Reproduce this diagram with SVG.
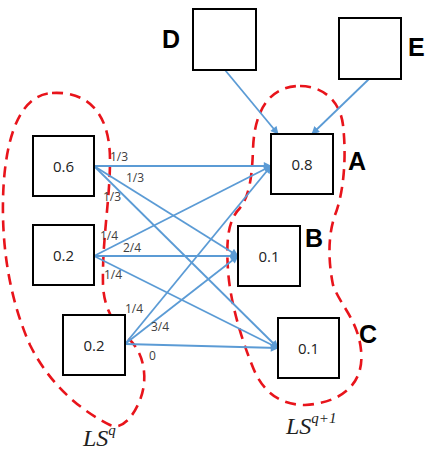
<svg xmlns="http://www.w3.org/2000/svg" width="430" height="451" viewBox="0 0 430 451">
<defs>
<marker id="ah" viewBox="0 0 10 10" refX="9" refY="5" markerWidth="9" markerHeight="8" markerUnits="userSpaceOnUse" orient="auto">
<path d="M0,0 L10,5 L0,10 z" fill="#5b9bd5"/>
</marker>
<style>
.box{fill:#fff;stroke:#000;stroke-width:2}
.v{font-family:"Open Sans","Liberation Sans",sans-serif;font-size:15px;fill:#222;text-anchor:middle}
.w{font-family:"Open Sans","Liberation Sans",sans-serif;font-size:12px;fill:#404040}
.big{font-family:"Liberation Sans",Arial,sans-serif;font-size:25px;font-weight:bold;fill:#000}
.ls{font-family:"Liberation Serif","DejaVu Serif",serif;font-style:italic;fill:#222}
.c{fill:none;stroke:#5b9bd5;stroke-width:1.8;marker-end:url(#ah)}
.blob{fill:none;stroke:#e8141b;stroke-width:2.6;stroke-dasharray:11,7}
</style>
</defs>
<g id="sets">
<path class="blob" d="M52 93 C85 91,110 110,110 160 C110 200,102 240,103 285 C104 310,115 325,130 340 C145 355,148 380,140 400 C132 420,120 430,110 425 C80 410,50 385,30 345 C10 300,2 250,3 200 C4 150,15 95,52 93 Z"/>
<path class="blob" d="M300 86 C322 86,340 100,343 125 C347 160,343 195,335 215 C328 235,328 260,333 285 C340 305,358 320,361 350 C365 385,340 403,305 405 C280 405,262 392,252 365 C240 335,230 300,228 270 C226 240,228 220,240 208 C250 195,252 175,253 150 C254 110,270 86,300 86 Z"/>
</g>
<g id="connectors">
<line class="c" x1="94" y1="166" x2="271" y2="166"/>
<line class="c" x1="94" y1="166" x2="238" y2="256"/>
<line class="c" x1="94" y1="166" x2="278" y2="348"/>
<line class="c" x1="94" y1="256" x2="271" y2="166"/>
<line class="c" x1="94" y1="256" x2="238" y2="256"/>
<line class="c" x1="94" y1="256" x2="278" y2="348"/>
<line class="c" x1="125" y1="344" x2="271" y2="166"/>
<line class="c" x1="125" y1="344" x2="238" y2="256"/>
<line class="c" x1="125" y1="344" x2="278" y2="348"/>
<line class="c" x1="225" y1="70" x2="278" y2="134"/>
<line class="c" x1="369" y1="79" x2="312" y2="134"/>
</g>
<g id="weights">
<text class="w" x="110" y="161">1/3</text>
<text class="w" x="126" y="182">1/3</text>
<text class="w" x="103" y="201">1/3</text>
<text class="w" x="100" y="240">1/4</text>
<text class="w" x="123" y="252">2/4</text>
<text class="w" x="104" y="279">1/4</text>
<text class="w" x="125" y="313">1/4</text>
<text class="w" x="151" y="331">3/4</text>
<text class="w" x="149" y="360">0</text>
</g>
<g id="n06"><rect class="box" x="33" y="136" width="61" height="60"/><text class="v" x="63.5" y="172">0.6</text></g>
<g id="n02a"><rect class="box" x="33" y="225" width="61" height="60"/><text class="v" x="63.5" y="261">0.2</text></g>
<g id="n02b"><rect class="box" x="63" y="315" width="62" height="60"/><text class="v" x="94" y="351">0.2</text></g>
<g id="nA"><rect class="box" x="271" y="134" width="62" height="60"/><text class="v" x="302" y="170">0.8</text><text class="big" x="348" y="170">A</text></g>
<g id="nB"><rect class="box" x="238" y="226" width="62" height="60"/><text class="v" x="269" y="262">0.1</text><text class="big" x="305" y="247">B</text></g>
<g id="nC"><rect class="box" x="278" y="318" width="61" height="60"/><text class="v" x="308.5" y="354">0.1</text><text class="big" x="359" y="343">C</text></g>
<g id="nD"><rect class="box" x="193" y="9" width="63" height="61"/><text class="big" x="162" y="48">D</text></g>
<g id="nE"><rect class="box" x="339" y="18" width="62" height="61"/><text class="big" x="408" y="56">E</text></g>
<g id="labels">
<text class="ls" x="83" y="446" font-size="24">LS<tspan font-size="15" dy="-11">q</tspan></text>
<text class="ls" x="286" y="434" font-size="24">LS<tspan font-size="15" dy="-11">q+1</tspan></text>
</g>
</svg>
